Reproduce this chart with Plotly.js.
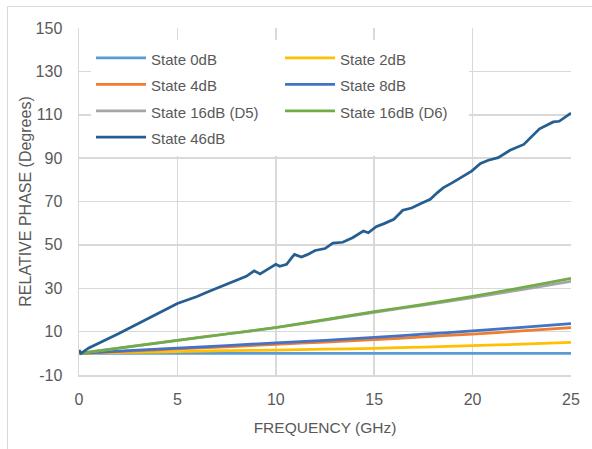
<!DOCTYPE html>
<html>
<head>
<meta charset="utf-8">
<script src="https://cdn.plot.ly/plotly-3.0.1.min.js"></script>
<style>
  html, body { margin: 0; padding: 0; background: #ffffff; }
  #wrap { position: relative; width: 592px; height: 449px; overflow: hidden; }
  #chart { position: absolute; left: 0; top: 0; width: 592px; height: 449px; }
  #frame { position: absolute; left: 7px; top: 6px; width: 700px; height: 600px;
           border: 1px solid #d9d9d9; pointer-events: none; }
</style>
</head>
<body>
<div id="wrap">
  <div id="frame"></div>
  <div id="chart"></div>
</div>
<script>
// ---- data ----
const freq = [0, 2.5, 5, 7.5, 10, 12.5, 15, 17.5, 20, 22.5, 25];
const state0dB   = [0, 0, 0, 0, 0, 0, 0, 0, 0, 0, 0];
const state2dB   = [0, 0.4, 0.8, 1.2, 1.5, 1.9, 2.3, 2.9, 3.5, 4.2, 5.0];
const state4dB   = [0, 1.0, 2.0, 3.0, 4.1, 5.2, 6.3, 7.6, 8.9, 10.3, 11.8];
const state8dB   = [0, 1.2, 2.4, 3.6, 4.8, 6.0, 7.3, 8.8, 10.3, 12.0, 13.7];
const state16D5  = [0, 3.0, 6.0, 8.9, 11.8, 15.3, 18.9, 22.2, 25.7, 29.4, 33.2];
const state16D6  = [0, 3.0, 6.0, 8.9, 11.9, 15.5, 19.2, 22.6, 26.3, 30.3, 34.6];

const freq46 = [0, 0.1, 0.5, 1, 1.5, 2, 2.5, 3, 3.5, 4, 4.5, 5, 5.5, 6, 6.5, 7, 7.5, 8, 8.5,
  8.9, 9.2, 9.6, 10, 10.2, 10.55, 10.8, 10.95, 11.3, 11.6, 12, 12.5, 12.9, 13.4, 13.9,
  14.45, 14.7, 15.1, 15.5, 16, 16.45, 16.9, 17.4, 17.85, 18.2, 18.5, 19, 19.3, 19.95,
  20.4, 20.8, 21.3, 21.9, 22.6, 23, 23.4, 24.1, 24.4, 25];
const state46dB = [1.5, 0, 2.5, 4.8, 6.8, 9, 11.3, 13.5, 15.8, 18.3, 20.5, 23, 24.6, 26.2,
  28.2, 30, 31.7, 33.8, 35.5, 38, 36.6, 38.8, 41, 40.1, 41, 44, 45.6, 44.4, 45.5, 47.4,
  48.3, 50.8, 51.2, 53.3, 56.4, 55.6, 58.4, 59.8, 61.8, 66, 67, 69.2, 71, 74, 76.3, 78.8,
  80.5, 84, 87.5, 89, 90.2, 93.6, 96.3, 100, 103.5, 106.7, 107, 110.8];

const names = ["State 0dB", "State 2dB", "State 4dB", "State 8dB",
               "State 16dB (D5)", "State 16dB (D6)", "State 46dB"];
const colors = ["#5B9BD5", "#FFC000", "#ED7D31", "#4472C4", "#A5A5A5", "#70AD47", "#255E91"];

const xTicks = [0, 5, 10, 15, 20, 25];
const yTicks = [-10, 10, 30, 50, 70, 90, 110, 130, 150];

// ---- traces ----
const series = [state0dB, state2dB, state4dB, state8dB, state16D5, state16D6];
const traces = series.map((ys, i) => ({
  x: freq, y: ys, type: "scatter", mode: "lines",
  name: '<span style="font-size:15px">' + names[i] + '</span>',
  line: { color: colors[i], width: 2.75, shape: "spline", smoothing: 0.6 }
}));
traces.push({
  x: freq46, y: state46dB, type: "scatter", mode: "lines",
  name: '<span style="font-size:15px">' + names[6] + '</span>',
  line: { color: colors[6], width: 2.75 }
});

const FONT = "Liberation Sans, Arial, sans-serif";
const GREY = "#595959";

const layout = {
  width: 592, height: 449,
  margin: { l: 79, r: 21, t: 28, b: 74 },
  paper_bgcolor: "rgba(0,0,0,0)",
  plot_bgcolor: "rgba(0,0,0,0)",
  font: { family: FONT, color: GREY, size: 16 },
  showlegend: true,
  legend: {
    orientation: "h",
    entrywidth: 124,
    itemwidth: 50,
    x: 0.0244, xanchor: "left",
    y: 0.966, yanchor: "top",
    bgcolor: "#ffffff",
    borderwidth: 0,
    font: { family: FONT, color: GREY, size: 18 },
    traceorder: "normal"
  },
  xaxis: {
    range: [0, 25],
    tickvals: xTicks,
    ticktext: xTicks.map(String),
    showgrid: true, gridcolor: "#d9d9d9", gridwidth: 1.5,
    zeroline: false,
    showline: true, linecolor: "#d9d9d9", linewidth: 1.5,
    ticks: "", ticklabelstandoff: 9,
    tickfont: { family: FONT, color: GREY, size: 16 },
    title: { text: "FREQUENCY (GHz)", font: { family: FONT, color: GREY, size: 15.5 }, standoff: 15 }
  },
  yaxis: {
    range: [-10, 150],
    tickvals: yTicks,
    ticktext: yTicks.map(String),
    showgrid: true, gridcolor: "#d9d9d9", gridwidth: 1.5,
    zeroline: false,
    showline: true, linecolor: "#d9d9d9", linewidth: 1.5,
    ticks: "", ticklabelstandoff: 12,
    tickfont: { family: FONT, color: GREY, size: 16 },
    title: { text: "RELATIVE PHASE (Degrees)", font: { family: FONT, color: GREY, size: 16 }, standoff: 0 }
  }
};

Plotly.newPlot("chart", traces, layout, { displayModeBar: false, staticPlot: true });
</script>
</body>
</html>
